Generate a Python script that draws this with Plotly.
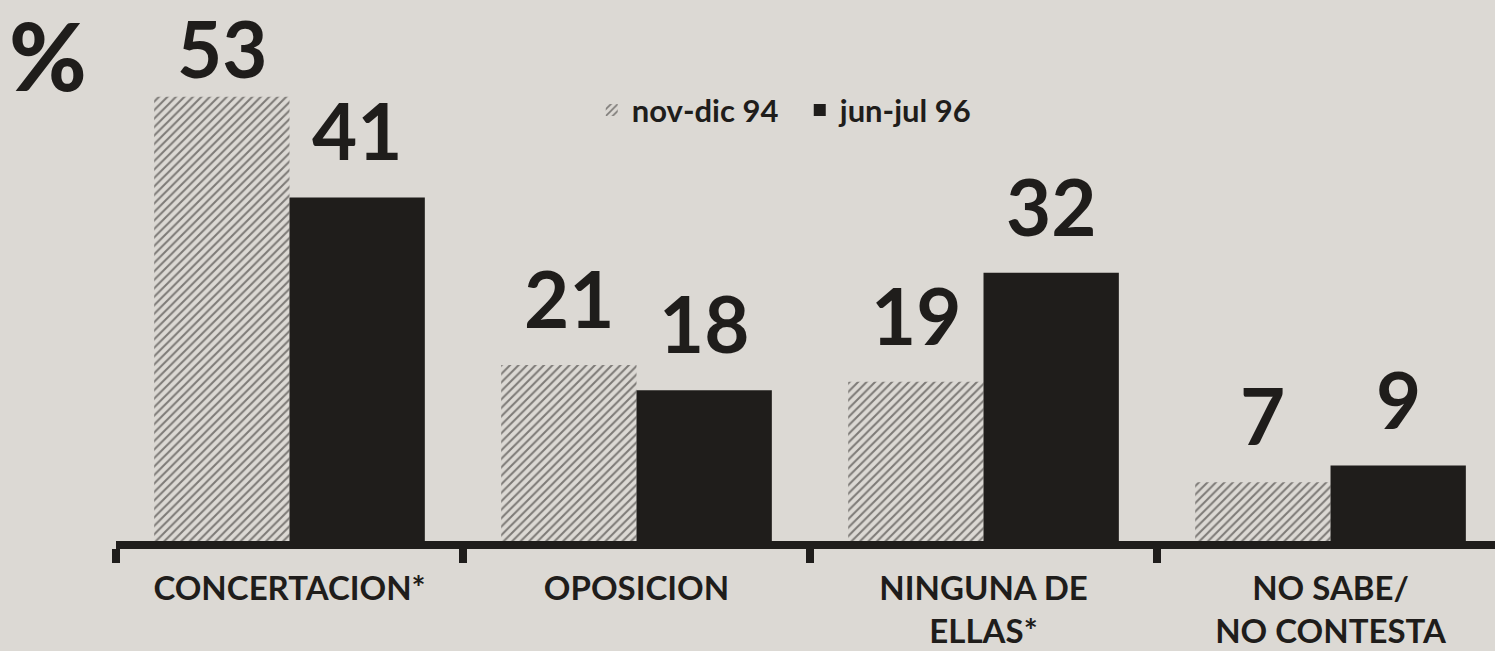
import plotly.graph_objects as go

categories = ["CONCERTACION*", "OPOSICION", "NINGUNA DE<br>ELLAS*", "NO SABE/<br>NO CONTESTA"]
series_names = ["nov-dic 94", "jun-jul 96"]
values_94 = [53, 21, 19, 7]
values_96 = [41, 18, 32, 9]

BG = "#dcd9d4"
INK = "#1f1d1b"
W, H = 1495, 651
ML, MR, MT, MB = 116, 0, 21, 110
X_RANGE = [-0.5, 3.474]
Y_RANGE = [0, 62.05]
BARGAP = 0.22

fig = go.Figure()
fig.add_trace(go.Bar(
    name=series_names[0], x=categories, y=values_94,
    marker=dict(color=BG, line=dict(width=0),
                pattern=dict(shape="/", fgcolor="#1e1c1a", bgcolor=BG, size=6, solidity=0.34)),
))
fig.add_trace(go.Bar(
    name=series_names[1], x=categories, y=values_96,
    marker=dict(color=INK, line=dict(width=0)),
))

# value labels above bars (gap shrinks only where the label would leave the page)
plot_w = W - ML - MR
plot_h = H - MT - MB
px_per_unit = plot_w / (X_RANGE[1] - X_RANGE[0])
py_per_unit = plot_h / (Y_RANGE[1] - Y_RANGE[0])
bar_w_px = (1 - BARGAP) / 2 * px_per_unit
label_font = dict(family="Lato", size=78, color=INK, weight="bold")
for vals, sign in ((values_94, -1), (values_96, 1)):
    for c, v in zip(categories, vals):
        bar_top_px = MT + (Y_RANGE[1] - v) * py_per_unit
        shift = max(0, min(18, bar_top_px - 97))
        fig.add_annotation(x=c, y=v, xref="x", yref="y", text=str(v), showarrow=False,
                           xanchor="center", yanchor="bottom", xshift=sign * bar_w_px / 2,
                           yshift=shift, font=label_font)

fig.update_layout(
    width=W, height=H,
    paper_bgcolor=BG, plot_bgcolor=BG,
    margin=dict(l=ML, r=MR, t=MT, b=MB, autoexpand=False),
    barmode="group", bargap=BARGAP, bargroupgap=0,
    title=dict(text="%", x=0.006, xanchor="left", xref="container",
               y=0.962, yanchor="top", yref="container", pad=dict(t=0, b=0, l=0, r=0),
               font=dict(family="Lato", size=94, color=INK, weight=900)),
    showlegend=True,
    legend=dict(orientation="h", x=0.345, xanchor="left", y=0.88, yanchor="top",
                bgcolor="rgba(0,0,0,0)", font=dict(family="Lato", size=31, color=INK, weight="bold"),
                itemsizing="constant", entrywidth=163, entrywidthmode="pixels"),
    xaxis=dict(range=X_RANGE, showgrid=False, zeroline=False, automargin=False,
               showline=True, linecolor=INK, linewidth=8,
               ticks="outside", tickson="boundaries", ticklen=14, tickwidth=8, tickcolor=INK,
               tickfont=dict(family="Lato", size=33, color=INK, weight="bold"),
               ticklabelstandoff=11),
    yaxis=dict(range=Y_RANGE, visible=False, showgrid=False, zeroline=False, automargin=False),
)

fig.write_html("out.html", config={"displayModeBar": False})

# remove the browser's default page margin so the figure sits at the window's corner
with open("out.html", "r", encoding="utf-8") as f:
    html = f.read()
html = html.replace("<body>", '<body style="margin:0;padding:0;">', 1)
with open("out.html", "w", encoding="utf-8") as f:
    f.write(html)
